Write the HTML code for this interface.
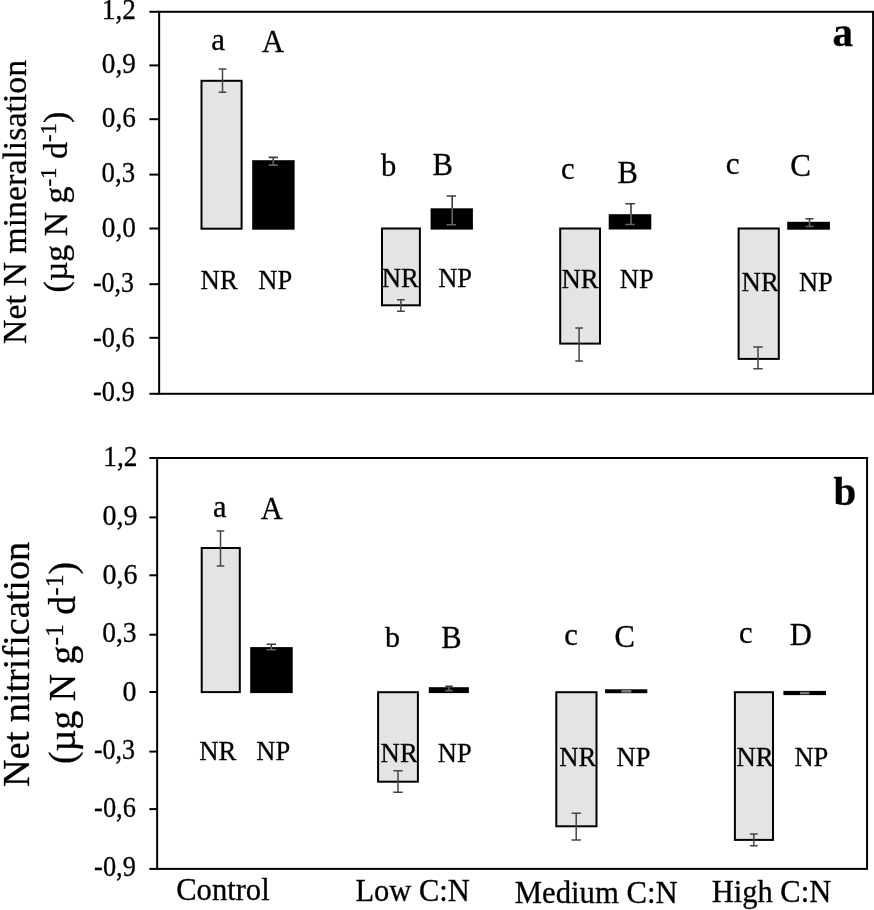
<!DOCTYPE html>
<html><head><meta charset="utf-8"><title>Net N mineralisation and nitrification</title>
<style>
html,body{margin:0;padding:0;background:#fff;}
body{width:874px;height:910px;overflow:hidden;font-family:"Liberation Serif",serif;}
svg{display:block;will-change:transform;}
svg text{font-family:"Liberation Serif",serif;fill:#000;stroke:#000;stroke-width:0.3px;font-variant-ligatures:none;font-kerning:none;}
</style></head>
<body>
<svg width="874" height="910" viewBox="0 0 874 910">
<rect x="0" y="0" width="874" height="910" fill="#fff"/>
<rect x="159.15" y="11.8" width="713.95" height="382.00" fill="none" stroke="#000" stroke-width="2.0"/>
<line x1="149.4" y1="11.8" x2="159.15" y2="11.8" stroke="#000" stroke-width="2.0"/>
<text transform="translate(135.90 19.40) scale(0.93 1)" font-size="29.3" text-anchor="end">1,2</text>
<line x1="149.4" y1="65.4" x2="159.15" y2="65.4" stroke="#000" stroke-width="2.0"/>
<text transform="translate(135.90 73.00) scale(0.93 1)" font-size="29.3" text-anchor="end">0,9</text>
<line x1="149.4" y1="119.2" x2="159.15" y2="119.2" stroke="#000" stroke-width="2.0"/>
<text transform="translate(135.90 127.15) scale(0.93 1)" font-size="29.3" text-anchor="end">0,6</text>
<line x1="149.4" y1="174.6" x2="159.15" y2="174.6" stroke="#000" stroke-width="2.0"/>
<text transform="translate(135.10 182.30) scale(0.9161 1)" font-size="29.3" text-anchor="end">0,3</text>
<line x1="149.4" y1="228.5" x2="159.15" y2="228.5" stroke="#000" stroke-width="2.0"/>
<text transform="translate(135.90 236.80) scale(0.93 1)" font-size="29.3" text-anchor="end">0,0</text>
<line x1="149.4" y1="284.2" x2="159.15" y2="284.2" stroke="#000" stroke-width="2.0"/>
<text transform="translate(133.85 291.90) scale(0.8835 1)" font-size="29.3" text-anchor="end">-0,3</text>
<line x1="149.4" y1="337.8" x2="159.15" y2="337.8" stroke="#000" stroke-width="2.0"/>
<text transform="translate(134.65 346.60) scale(0.897 1)" font-size="29.3" text-anchor="end">-0,6</text>
<line x1="149.4" y1="393.8" x2="159.15" y2="393.8" stroke="#000" stroke-width="2.0"/>
<text transform="translate(134.65 401.40) scale(0.897 1)" font-size="29.3" text-anchor="end">-0.9</text>
<rect x="157.15" y="458.0" width="709.90" height="410.90" fill="none" stroke="#000" stroke-width="2.0"/>
<line x1="149.4" y1="458.0" x2="157.15" y2="458.0" stroke="#000" stroke-width="2.0"/>
<text transform="translate(137.40 465.80) scale(0.9311 1)" font-size="29.3" text-anchor="end">1,2</text>
<line x1="149.4" y1="517.4" x2="157.15" y2="517.4" stroke="#000" stroke-width="2.0"/>
<text transform="translate(137.40 524.75) scale(0.955 1)" font-size="29.3" text-anchor="end">0,9</text>
<line x1="149.4" y1="575.3" x2="157.15" y2="575.3" stroke="#000" stroke-width="2.0"/>
<text transform="translate(137.40 583.75) scale(0.955 1)" font-size="29.3" text-anchor="end">0,6</text>
<line x1="149.4" y1="634.7" x2="157.15" y2="634.7" stroke="#000" stroke-width="2.0"/>
<text transform="translate(136.60 641.60) scale(0.9407 1)" font-size="29.3" text-anchor="end">0,3</text>
<line x1="149.4" y1="692.0" x2="157.15" y2="692.0" stroke="#000" stroke-width="2.0"/>
<text transform="translate(136.60 700.55) scale(0.955 1)" font-size="29.3" text-anchor="end">0</text>
<line x1="149.4" y1="751.6" x2="157.15" y2="751.6" stroke="#000" stroke-width="2.0"/>
<text transform="translate(135.05 758.85) scale(0.8865 1)" font-size="29.3" text-anchor="end">-0,3</text>
<line x1="149.4" y1="809.1" x2="157.15" y2="809.1" stroke="#000" stroke-width="2.0"/>
<text transform="translate(135.85 817.40) scale(0.9 1)" font-size="29.3" text-anchor="end">-0,6</text>
<line x1="149.4" y1="868.9" x2="157.15" y2="868.9" stroke="#000" stroke-width="2.0"/>
<text transform="translate(135.85 875.80) scale(0.9 1)" font-size="29.3" text-anchor="end">-0,9</text>
<rect x="201.50" y="80.80" width="40.10" height="147.90" fill="#e4e4e4" stroke="#000" stroke-width="2.0"/>
<rect x="253.20" y="161.20" width="40.40" height="67.50" fill="#000" stroke="#000" stroke-width="2.0"/>
<rect x="382.00" y="228.50" width="37.90" height="76.80" fill="#e4e4e4" stroke="#000" stroke-width="2.0"/>
<rect x="431.60" y="209.30" width="40.30" height="19.30" fill="#000" stroke="#000" stroke-width="2.0"/>
<rect x="560.20" y="228.50" width="39.80" height="115.10" fill="#e4e4e4" stroke="#000" stroke-width="2.0"/>
<rect x="609.70" y="215.20" width="40.60" height="13.30" fill="#000" stroke="#000" stroke-width="2.0"/>
<rect x="738.60" y="228.50" width="40.20" height="130.40" fill="#e4e4e4" stroke="#000" stroke-width="2.0"/>
<rect x="788.20" y="222.80" width="40.70" height="5.90" fill="#000" stroke="#000" stroke-width="2.0"/>
<rect x="201.70" y="548.00" width="38.10" height="144.10" fill="#e4e4e4" stroke="#000" stroke-width="2.0"/>
<rect x="251.20" y="648.10" width="40.50" height="44.00" fill="#000" stroke="#000" stroke-width="2.0"/>
<rect x="378.10" y="692.20" width="39.80" height="89.50" fill="#e4e4e4" stroke="#000" stroke-width="2.0"/>
<rect x="429.80" y="688.20" width="38.10" height="3.90" fill="#000" stroke="#000" stroke-width="2.0"/>
<rect x="556.30" y="692.20" width="40.20" height="134.10" fill="#e4e4e4" stroke="#000" stroke-width="2.0"/>
<rect x="606.00" y="690.30" width="40.30" height="1.90" fill="#000" stroke="#000" stroke-width="2.0"/>
<rect x="734.90" y="692.20" width="38.10" height="147.70" fill="#e4e4e4" stroke="#000" stroke-width="2.0"/>
<rect x="784.40" y="691.90" width="40.60" height="2.20" fill="#000" stroke="#000" stroke-width="2.0"/>
<path d="M218.60 69.1H226.40M218.60 92.3H226.40M222.5 69.1V92.3" fill="none" stroke="#444" stroke-width="1.5"/>
<path d="M268.70 157.4H277.90M273.3 157.4V160.2" fill="none" stroke="#3c3c3c" stroke-width="1.6"/>
<path d="M273.3 160.2V165.1M268.70 165.1H277.90" fill="none" stroke="#646464" stroke-width="1.6"/>
<path d="M397.00 299.8H404.80M397.00 311.2H404.80M400.9 299.8V311.2" fill="none" stroke="#444" stroke-width="1.5"/>
<path d="M446.60 196.0H456.00M452.2 196.0V208.3" fill="none" stroke="#3c3c3c" stroke-width="1.6"/>
<path d="M452.2 208.3V224.8M446.60 224.8H456.00" fill="none" stroke="#646464" stroke-width="1.6"/>
<path d="M575.30 328.0H582.90M575.30 361.0H582.90M579.1 328.0V361.0" fill="none" stroke="#444" stroke-width="1.5"/>
<path d="M625.30 203.7H634.90M631.0 203.7V214.2" fill="none" stroke="#3c3c3c" stroke-width="1.6"/>
<path d="M631.0 214.2V224.5M625.30 224.5H634.90" fill="none" stroke="#646464" stroke-width="1.6"/>
<path d="M753.30 347.1H762.70M753.30 368.8H762.70M758.0 347.1V368.8" fill="none" stroke="#444" stroke-width="1.5"/>
<path d="M805.40 218.8H813.60M809.5 218.8V221.8" fill="none" stroke="#3c3c3c" stroke-width="1.6"/>
<path d="M809.5 221.8V226.5M805.40 226.5H813.60" fill="none" stroke="#646464" stroke-width="1.6"/>
<path d="M216.70 530.9H224.30M216.70 565.9H224.30M220.5 530.9V565.9" fill="none" stroke="#444" stroke-width="1.5"/>
<path d="M266.60 644.3H276.00M271.3 644.3V647.1" fill="none" stroke="#3c3c3c" stroke-width="1.6"/>
<path d="M271.3 647.1V649.7M266.60 649.7H276.00" fill="none" stroke="#646464" stroke-width="1.6"/>
<path d="M393.30 770.7H402.70M393.30 792.3H402.70M398.0 770.7V792.3" fill="none" stroke="#444" stroke-width="1.5"/>
<path d="M445.30 686.2H452.70M449.0 686.2V687.2" fill="none" stroke="#3c3c3c" stroke-width="1.6"/>
<path d="M449.0 687.2V690.6M445.30 690.6H452.70" fill="none" stroke="#646464" stroke-width="1.6"/>
<path d="M571.55 813.2H580.85M571.55 840.0H580.85M576.2 813.2V840.0" fill="none" stroke="#444" stroke-width="1.5"/>
<path d="M749.95 834.1H757.65M749.95 845.7H757.65M753.8 834.1V845.7" fill="none" stroke="#444" stroke-width="1.5"/>
<rect x="621.3" y="690.0" width="10.1" height="2.6" fill="#7c7c7c"/>
<rect x="800.0" y="691.8" width="9.5" height="2.6" fill="#747474"/>
<text x="218.20" y="50.00" font-size="31" text-anchor="middle">a</text>
<text x="273.00" y="52.30" font-size="31" text-anchor="middle">A</text>
<text x="388.60" y="175.50" font-size="30.6" text-anchor="middle">b</text>
<text x="442.70" y="175.30" font-size="30.6" text-anchor="middle">B</text>
<text x="567.80" y="178.90" font-size="30.6" text-anchor="middle">c</text>
<text x="627.70" y="183.20" font-size="30.6" text-anchor="middle">B</text>
<text x="732.70" y="174.20" font-size="31" text-anchor="middle">c</text>
<text x="800.70" y="176.30" font-size="31" text-anchor="middle">C</text>
<text x="219.80" y="516.50" font-size="30.5" text-anchor="middle">a</text>
<text x="271.80" y="519.20" font-size="30.5" text-anchor="middle">A</text>
<text x="392.60" y="646.60" font-size="30.0" text-anchor="middle">b</text>
<text x="451.30" y="648.20" font-size="30.5" text-anchor="middle">B</text>
<text x="571.10" y="644.90" font-size="30.5" text-anchor="middle">c</text>
<text x="624.70" y="646.60" font-size="30.5" text-anchor="middle">C</text>
<text x="745.80" y="642.50" font-size="30.5" text-anchor="middle">c</text>
<text x="800.70" y="644.50" font-size="30.5" text-anchor="middle">D</text>
<text transform="translate(200.60 288.60) scale(0.99 1)" font-size="27">NR</text>
<text transform="translate(258.30 288.60) scale(0.98 1)" font-size="27">NP</text>
<text transform="translate(381.80 287.10) scale(0.99 1)" font-size="27">NR</text>
<text transform="translate(438.20 287.10) scale(0.98 1)" font-size="27">NP</text>
<text transform="translate(561.50 288.00) scale(0.99 1)" font-size="27">NR</text>
<text transform="translate(619.80 288.00) scale(0.98 1)" font-size="27">NP</text>
<text transform="translate(741.60 291.20) scale(0.99 1)" font-size="27">NR</text>
<text transform="translate(798.90 291.20) scale(0.98 1)" font-size="27">NP</text>
<text transform="translate(199.30 759.70) scale(0.99 1)" font-size="27">NR</text>
<text transform="translate(256.30 759.70) scale(0.98 1)" font-size="27">NP</text>
<text transform="translate(380.60 762.20) scale(0.99 1)" font-size="27">NR</text>
<text transform="translate(437.80 762.20) scale(0.98 1)" font-size="27">NP</text>
<text transform="translate(559.20 766.20) scale(0.99 1)" font-size="27">NR</text>
<text transform="translate(616.60 766.20) scale(0.98 1)" font-size="27">NP</text>
<text transform="translate(736.50 766.30) scale(0.99 1)" font-size="27">NR</text>
<text transform="translate(794.50 766.30) scale(0.98 1)" font-size="27">NP</text>
<text x="176.20" y="899.60" font-size="30.6">Control</text>
<text x="355.40" y="901.30" font-size="30.5">Low C:N</text>
<text x="514.80" y="903.00" font-size="30.7">Medium C:N</text>
<text x="711.70" y="902.40" font-size="30.5">High C:N</text>
<text x="832.50" y="45.80" font-size="41" font-weight="bold">a</text>
<text x="833.60" y="505.30" font-size="41" font-weight="bold">b</text>
<text transform="translate(26.0,201.9) rotate(-90)" font-size="33.9" text-anchor="middle">Net N mineralisation</text>
<text transform="translate(67.0,202.0) rotate(-90)" font-size="33.8" text-anchor="middle">(µg N g<tspan font-size="68%" dy="-0.50em">-1</tspan><tspan dy="0.34em"> d</tspan><tspan font-size="68%" dy="-0.50em">-1</tspan><tspan dy="0.34em">)</tspan></text>
<text transform="translate(28.6,664.4) rotate(-90)" font-size="38.2" text-anchor="middle">Net nitrification</text>
<text transform="translate(74.7,662.9) rotate(-90)" font-size="37.8" text-anchor="middle">(µg N g<tspan font-size="68%" dy="-0.44em">-1</tspan><tspan dy="0.30em"> d</tspan><tspan font-size="68%" dy="-0.44em">-1</tspan><tspan dy="0.30em">)</tspan></text>
</svg>
</body></html>
